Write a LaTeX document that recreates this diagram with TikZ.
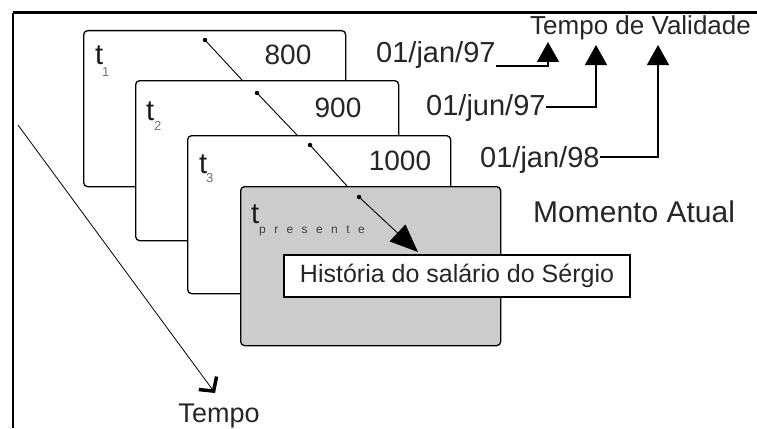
\documentclass[tikz,border=0pt]{standalone}
\usepackage{fontspec}
\setmainfont{Liberation Sans}
\newfontfamily\spacedfont[LetterSpace=70]{Liberation Sans}
\usetikzlibrary{arrows.meta}
\begin{document}
\begin{tikzpicture}[x=1pt,y=-1pt,
  card/.style={draw, line width=1.3pt, rounded corners=4pt, inner sep=0pt, anchor=north west, fill=white},
  txt/.style={inner sep=0pt, anchor=base west, text=black!85},
  big/.style={txt, font=\fontsize{28}{32}\selectfont},
  date/.style={txt, font=\fontsize{29}{33}\selectfont},
  tlab/.style={txt, text=black!90, font=\fontsize{29}{33}\selectfont},
  sub/.style={txt, text=black!55, font=\fontsize{13}{15}\selectfont},
  dot/.style={circle, fill=black, inner sep=0pt, minimum size=4.5pt},
  pin/.style={line width=0.9pt},
  valid/.style={line width=1.2pt, -{Triangle[length=20pt,width=22pt]}}
]
\useasboundingbox (0,0) rectangle (757,428);

% frame
\coordinate (fTL) at (13,13);
\coordinate (fTR) at (757,13);
\coordinate (fBL) at (13,428);
\draw[line width=1.5pt] (fTL) -- (fBL);
\draw[line width=3pt] (fTL) -- (fTR);

% time axis
\coordinate (axS) at (18,125);
\coordinate (axE) at (215,393);
\draw[line width=0.8pt, -{Straight Barb[length=10pt,width=22pt,line width=3.5pt]}] (axS) -- (axE);
\node[txt, anchor=base, font=\fontsize{27}{31}\selectfont] (tempo) at (219,422) {Tempo};

% card t1
\node[card, minimum width=262pt, minimum height=156pt] (c1) at (83,30) {};
\node[tlab] (t1) at (95,65) {t};
\node[sub] (s1) at (102,77) {1};
\node[big, anchor=base] (v1) at (288,65) {800};
\node[dot] (p1) at (205,40) {};
\coordinate (q1) at (242,80);
\draw[pin] (p1.center) -- (q1);

% card t2
\node[card, minimum width=263pt, minimum height=160pt] (c2) at (135,80) {};
\node[tlab] (t2) at (146,120) {t};
\node[sub] (s2) at (154,130) {2};
\node[big, anchor=base] (v2) at (338,117) {900};
\node[dot] (p2) at (257,93) {};
\coordinate (q2) at (297,135);
\draw[pin] (p2.center) -- (q2);

% card t3
\node[card, minimum width=263pt, minimum height=158pt] (c3) at (187,135) {};
\node[tlab] (t3) at (199,173) {t};
\node[sub] (s3) at (206,182) {3};
\node[big, anchor=base] (v3) at (400,170) {1000};
\node[dot] (p3) at (310,145) {};
\coordinate (q3) at (347,186);
\draw[pin] (p3.center) -- (q3);

% present card
\node[card, fill=black!20, minimum width=260pt, minimum height=159pt] (c4) at (240,186) {};
\node[tlab] (t4) at (251,223) {t};
\node[txt, text=black!75, font=\spacedfont\fontsize{12}{14}\selectfont] (s4) at (259,233) {presente};
\node[dot] (p4) at (359,197) {};
\coordinate (q4) at (418,252);
\draw[pin, -{Triangle[length=28pt,width=23pt]}] (p4.center) -- (q4);

\node[draw, fill=white, line width=1.3pt, inner sep=0pt, minimum width=346pt, minimum height=42pt,
      text height=17pt, text depth=5pt, text=black!85, font=\fontsize{25}{29}\selectfont]
  (hist) at (457,276) {História do salário do Sérgio};

\node[txt, font=\fontsize{30}{34}\selectfont] (now) at (533,222) {Momento Atual};

% validity dates
\node[txt, font=\fontsize{26}{30}\selectfont] (valid) at (530,35) {Tempo de Validade};
\node[date] (d1) at (376,63) {01/jan/97};
\node[date] (d2) at (426,115) {01/jun/97};
\node[date] (d3) at (480,167) {01/jan/98};
\coordinate (a1) at (548,42);
\coordinate (a2) at (596,45);
\coordinate (a3) at (658,45);
\draw[valid] ([yshift=-3pt]d1.base east) -| (a1);
\draw[valid] ([yshift=8pt]d2.base east) -| (a2);
\draw[valid] ([yshift=10pt]d3.base east) -| (a3);
\end{tikzpicture}
\end{document}
